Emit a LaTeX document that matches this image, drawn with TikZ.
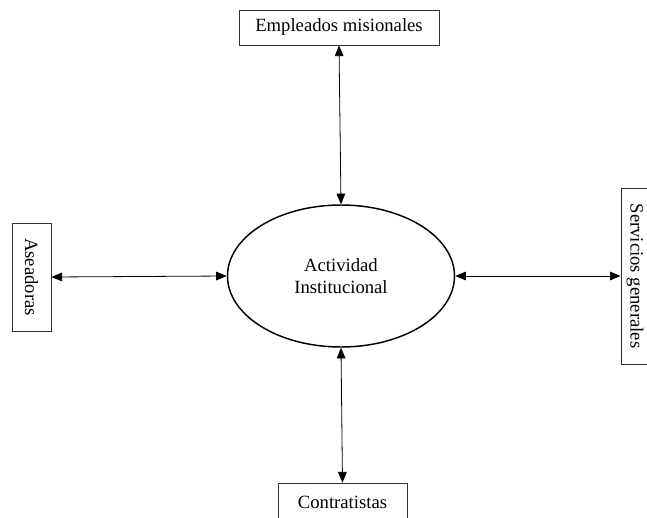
\documentclass[tikz,border=0pt]{standalone}
\usepackage{fontspec}
\setmainfont{Liberation Serif}
\usepackage{graphicx}
\usetikzlibrary{shapes.geometric,arrows.meta}

\begin{document}
\begin{tikzpicture}[x=0.75pt,y=-0.75pt,
    font=\fontsize{14}{17}\selectfont,
    actor/.style={draw=black!80, line width=0.6pt, inner sep=0pt},
    flow/.style={{Triangle[length=8pt,width=6.5pt]}-{Triangle[length=8pt,width=6.5pt]}, line width=0.6pt}]
    \clip (0,0) rectangle (647,518);
    % centro
    \node[draw, ellipse, line width=1.1pt, minimum width=170.25pt, minimum height=106.5pt,
      align=center, inner sep=0pt] (act) at (341,276) {Actividad\\Institucional};
    % actores
    \node[actor, minimum width=150pt, minimum height=26.25pt] (emp) at (339,27.5) {Empleados misionales};
    \node[actor, minimum width=29.25pt, minimum height=81pt] (ase) at (31.5,277) {\rotatebox{-90}{Aseadoras}};
    \node[actor, minimum width=21pt, minimum height=132pt] (ser) at (635,276) {\rotatebox{-90}{Servicios generales}};
    \node[actor, minimum width=96.75pt, minimum height=28.5pt] (con) at (342.5,502) {Contratistas};
    % flechas
    \draw[flow] (emp.south) -- (act.north);
    \draw[flow] (ase.east) -- (act.west);
    \draw[flow] (act.east) -- (ser.west);
    \draw[flow] (act.south) -- (con.north);
\end{tikzpicture}
\end{document}
